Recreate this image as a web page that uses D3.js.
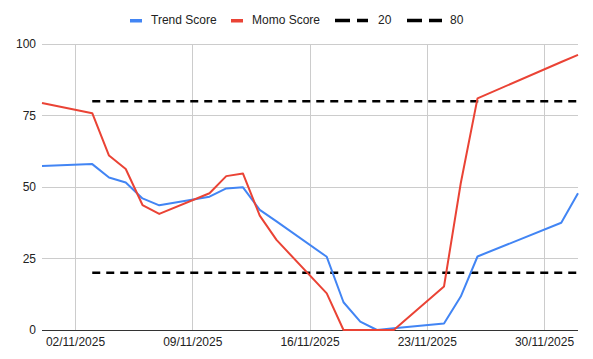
<!DOCTYPE html>
<html><head><meta charset="utf-8">
<script src="https://cdn.jsdelivr.net/npm/d3@7"></script>
<style>body{margin:0;background:#fff;}svg{display:block;font-family:Arial,"Liberation Sans",sans-serif;}</style>
</head><body>
<svg id="c" width="593" height="359"></svg>
<script>
const dates = ["2025-10-31","2025-11-03","2025-11-04","2025-11-05","2025-11-06","2025-11-07","2025-11-10","2025-11-11","2025-11-12","2025-11-13","2025-11-14","2025-11-17","2025-11-18","2025-11-19","2025-11-20","2025-11-21","2025-11-24","2025-11-25","2025-11-26","2025-12-01","2025-12-02"];
const trendScore = [57.3,58.0,53.3,51.6,46.0,43.6,46.6,49.5,49.9,42.0,38.0,25.6,9.7,2.9,0,0.6,2.3,11.7,25.7,37.5,47.8];
const momoScore = [79.4,75.8,61.0,56.3,43.7,40.6,47.8,53.8,54.7,40.0,31.5,12.8,0,0,0,0,15.2,51.3,81.0,93.7,96.2];
const line20 = [null,20,20,20,20,20,20,20,20,20,20,20,20,20,20,20,20,20,20,20,20];
const line80 = [null,80,80,80,80,80,80,80,80,80,80,80,80,80,80,80,80,80,80,80,80];
const yTicks = [0,25,50,75,100];
const xTickLabels = ["2025-11-02","2025-11-09","2025-11-16","2025-11-23","2025-11-30"];
const seriesNames = ["Trend Score","Momo Score","20","80"];

const parse = d3.timeParse("%Y-%m-%d");
const fmt = d3.timeFormat("%d/%m/%Y");
const X = dates.map(parse);
const svg = d3.select("#c");
const L=42,R=578,T=44,B=330;
const x = d3.scaleTime().domain([X[0], X[X.length-1]]).range([L,R]);
const y = d3.scaleLinear().domain([0,100]).range([B,T]);

// grid
svg.append("g").selectAll("line").data(yTicks.filter(v=>v>0)).join("line")
  .attr("x1",L).attr("x2",R).attr("y1",d=>y(d)).attr("y2",d=>y(d))
  .attr("stroke","#cccccc").attr("stroke-width",1).attr("shape-rendering","crispEdges");
const xt = xTickLabels.map(parse);
svg.append("g").selectAll("line").data(xt).join("line")
  .attr("x1",d=>x(d)).attr("x2",d=>x(d)).attr("y1",T).attr("y2",B)
  .attr("stroke","#cccccc").attr("stroke-width",1).attr("shape-rendering","crispEdges");

// y labels
svg.append("g").selectAll("text").data(yTicks).join("text")
  .attr("x",36).attr("y",d=>y(d)).attr("dy","0.35em").attr("text-anchor","end")
  .attr("font-size",12).attr("fill","#222").text(d=>d);
// x labels
svg.append("g").selectAll("text").data(xt).join("text")
  .attr("x",d=>x(d)).attr("y",342).attr("dy","0.35em").attr("text-anchor","middle")
  .attr("font-size",12).attr("fill","#222").text(d=>fmt(d));

const series = [
  {name:seriesNames[0], vals:trendScore, color:"#4285f4", dash:null, w:2},
  {name:seriesNames[1], vals:momoScore, color:"#ea4335", dash:null, w:2},
  {name:seriesNames[2], vals:line20, color:"#000", dash:"8,6", w:2.5},
  {name:seriesNames[3], vals:line80, color:"#000", dash:"8,6", w:2.5}
];
const lineGen = d3.line().defined(d=>d[1]!=null).x(d=>x(d[0])).y(d=>y(d[1]));
// baseline
svg.append("line").attr("x1",L).attr("x2",R).attr("y1",B).attr("y2",B)
  .attr("stroke","#333").attr("stroke-width",1).attr("shape-rendering","crispEdges");
[series[2],series[3],series[0],series[1]].forEach(s=>{
  svg.append("path").datum(X.map((d,i)=>[d,s.vals[i]]))
    .attr("d",lineGen).attr("fill","none").attr("stroke",s.color)
    .attr("stroke-width",s.w).attr("stroke-linejoin","round")
    .attr("stroke-dasharray",s.dash);
});

// legend
const leg = [
  {sx:130, sw:12, tx:151},
  {sx:231, sw:12, tx:252},
  {sx:335, sw:33, tx:378},
  {sx:407, sw:35, tx:450}
];
series.forEach((s,i)=>{
  const g = leg[i];
  if(!s.dash){
    svg.append("rect").attr("x",g.sx).attr("y",19).attr("width",g.sw).attr("height",3.5).attr("fill",s.color);
  } else {
    svg.append("line").attr("x1",g.sx).attr("x2",g.sx+g.sw).attr("y1",20.5).attr("y2",20.5)
      .attr("stroke","#000").attr("stroke-width",3.5).attr("stroke-dasharray","15,7");
  }
  svg.append("text").attr("x",g.tx).attr("y",20).attr("dy","0.35em").attr("font-size",12).attr("fill","#222").text(s.name);
});
</script>
</body></html>
